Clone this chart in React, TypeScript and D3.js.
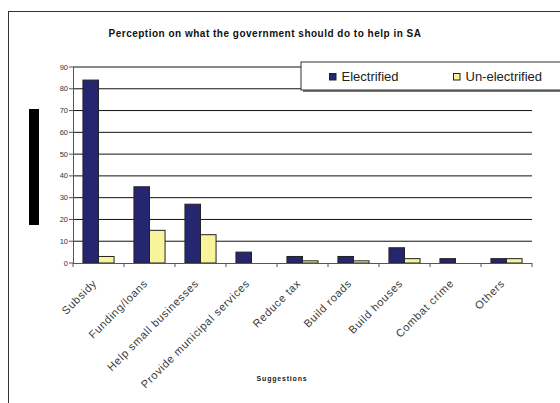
import React from "react";
import * as d3 from "d3";

const categories = [
  "Subsidy",
  "Funding/loans",
  "Help small businesses",
  "Provide municipal services",
  "Reduce tax",
  "Build roads",
  "Build houses",
  "Combat crime",
  "Others",
];
const electrified = [84, 35, 27, 5, 3, 3, 7, 2, 2];
const unElectrified = [3, 15, 13, 0, 1, 1, 2, 0, 2];
const yTicks = [0, 10, 20, 30, 40, 50, 60, 70, 80, 90];
const seriesNames = ["Electrified", "Un-electrified"];
const colors = ["#262670", "#F8F49C"];

const FONT = "Liberation Sans, Arial, sans-serif";

export default function App() {
  const left = 73, right = 532, top = 67, bottom = 263;
  const x = d3.scaleBand<string>().domain(categories).range([left, right]).paddingInner(0).paddingOuter(0);
  const y = d3.scaleLinear().domain([0, 90]).range([bottom, top]);
  const bw = x.bandwidth();
  const barW = bw * 0.305;
  const gap = (bw - 2 * barW) / 2;
  const series = [electrified, unElectrified];

  return (
    <svg width={560} height={403} style={{ position: "absolute", left: 0, top: 0, background: "#fff" }} fontFamily={FONT}>
      <rect x={0} y={0} width={560} height={403} fill="#fff" />
      {/* outer frame */}
      <rect x={8.5} y={11.5} width={600} height={450} fill="none" stroke="#333" strokeWidth={1} />
      {/* title */}
      <text x={265} y={36.5} textAnchor="middle" fontSize={10} fontWeight="bold" letterSpacing={0.5} fill="#111">
        Perception on what the government should do to help in SA
      </text>
      {/* gridlines */}
      {yTicks.filter((t) => t > 0).map((t) => (
        <line key={t} x1={left} x2={right} y1={y(t)} y2={y(t)} stroke="#111" strokeWidth={1} />
      ))}
      {/* y axis */}
      <line x1={left + 0.5} x2={left + 0.5} y1={top} y2={bottom} stroke="#555" />
      {yTicks.map((t) => (
        <g key={t}>
          <line x1={left - 4} x2={left} y1={y(t)} y2={y(t)} stroke="#555" />
          <text x={left - 5} y={y(t) + 2.6} textAnchor="end" fontSize={7.5} fill="#333">
            {t}
          </text>
        </g>
      ))}
      {/* bars */}
      {categories.map((c, i) =>
        series.map((s, j) => {
          const v = s[i];
          if (v <= 0) return null;
          const bx = (x(c) as number) + gap + j * barW;
          return (
            <rect
              key={c + j}
              x={bx}
              y={y(v)}
              width={barW}
              height={y(0) - y(v)}
              fill={colors[j]}
              stroke="#222"
              strokeWidth={1}
            />
          );
        })
      )}
      {/* x axis */}
      <line x1={left} x2={right} y1={bottom + 0.5} y2={bottom + 0.5} stroke="#555" />
      {[...categories.map((c) => x(c) as number), right].map((tx, i) => (
        <line key={i} x1={tx} x2={tx} y1={bottom} y2={bottom + 4} stroke="#555" />
      ))}
      {categories.map((c) => {
        const cx = (x(c) as number) + bw / 2 - 1;
        const cy = bottom + 21;
        return (
          <text
            key={c}
            x={cx}
            y={cy}
            textAnchor="end"
            fontSize={11}
            fill="#3a3a3a"
            letterSpacing={0.7}
            transform={`rotate(-45 ${cx} ${cy})`}
          >
            {c}
          </text>
        );
      })}
      <text x={282} y={381} textAnchor="middle" fontSize={7} fontWeight="bold" letterSpacing={0.8} fill="#222">
        Suggestions
      </text>
      {/* black block */}
      <rect x={29} y={109} width={10} height={116} fill="#000" />
      {/* legend */}
      <rect x={303} y={64} width={300} height={28} fill="#777" />
      <rect x={301} y={62} width={300} height={28} fill="#fff" stroke="#333" strokeWidth={1} />
      {seriesNames.map((n, j) => {
        const lx = j === 0 ? 329.5 : 453.5;
        return (
          <g key={n}>
            <rect x={lx} y={73.5} width={6.5} height={6.5} fill={colors[j]} stroke="#222" strokeWidth={1} />
            <text x={lx + 12} y={81} fontSize={13} fill="#222">
              {n}
            </text>
          </g>
        );
      })}
    </svg>
  );
}
